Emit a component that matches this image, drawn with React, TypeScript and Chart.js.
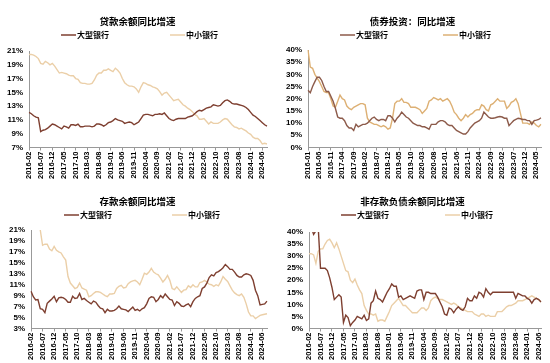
import React, { useEffect, useRef } from "react";
import { Chart, registerables } from "chart.js";

Chart.register(...registerables);

// ---------- data ----------
const loanLarge = [
  12.1, 11.9, 11.6, 11.4, 11.3, 9.3, 9.5, 9.6, 9.8, 10.1, 10.4,
  10.3, 10.1, 9.9, 9.7, 10.1, 10.0, 9.8, 10.3, 10.3, 10.2, 10.4, 10.0,
  10.0, 10.1, 10.1, 10.1, 10.0, 10.1, 10.4, 10.4, 10.3, 10.1, 10.3, 10.6,
  10.7, 10.9, 11.2, 11.0, 10.9, 10.8, 10.5, 10.6, 10.7, 10.6, 10.3, 10.5,
  10.7, 11.2, 11.7, 11.8, 11.8, 11.7, 11.6, 11.8, 11.8, 11.9, 11.8, 12.0,
  11.6, 11.2, 11.0, 10.9, 11.1, 11.2, 11.2, 11.2, 11.2, 11.4, 11.5, 11.6,
  11.9, 12.2, 12.4, 12.3, 12.5, 12.7, 12.8, 12.9, 13.2, 13.1, 13.0, 13.1,
  13.5, 13.8, 13.9, 13.7, 13.4, 13.3, 13.3, 13.2, 13.1, 13.0, 12.8, 12.5,
  12.1, 11.7, 11.5, 11.2, 10.9, 10.6, 10.3, 10.1,
];
const loanSmall = [
  20.5, 20.5, 20.4, 20.2, 19.9, 19.2, 19.1, 19.5, 19.3, 19.0, 19.2,
  18.8, 18.3, 17.8, 17.9, 17.8, 17.7, 17.5, 17.4, 17.4, 17.0, 16.9, 16.4,
  16.3, 16.3, 16.2, 16.2, 16.3, 16.8, 17.5, 17.8, 17.8, 18.2, 18.2, 18.4,
  18.2, 18.0, 18.5, 18.2, 17.8, 17.0, 16.4, 16.1, 15.9, 15.9, 15.8, 15.5,
  15.0, 15.8, 16.4, 16.3, 16.1, 16.0, 15.8, 15.7, 15.5, 15.1, 14.6, 14.9,
  15.0, 14.6, 14.2, 13.8, 13.9, 14.0, 13.6, 13.2, 13.0, 12.7, 12.5, 12.2,
  11.8, 11.6, 11.1, 11.1, 11.2, 10.8, 10.4, 10.7, 10.5, 10.5, 10.5, 10.7,
  11.0, 11.2, 11.1, 10.7, 10.3, 10.0, 9.9, 9.7, 9.8, 9.6, 9.4, 9.1,
  8.9, 8.5, 8.3, 8.3, 8.0, 7.5, 7.6, 7.5,
];

const bondLarge = [
  23.5, 22.5, 25, 27, 28.8, 28.8, 27.5, 25, 23, 23, 21, 19,
  16, 12.5, 12, 12, 11, 9, 8, 8, 7, 9.5, 8.5, 9,
  9.5, 9.5, 10, 11, 12, 12.5, 11.5, 11, 11.5, 11.5, 11, 13,
  13, 12, 10.5, 12, 13, 14.5, 13.5, 12.5, 12, 11, 10, 9.5,
  9, 9, 8.5, 8.5, 8, 7.5, 9.5, 9.5, 9.5, 10.5, 11, 11,
  10.5, 9.5, 9, 9, 8, 7, 6.5, 6, 5.5, 5.5, 6.5, 8,
  9, 10, 10.5, 11, 12, 14.5, 13.5, 12.5, 12, 12, 12.2, 12.5,
  12.7, 12.5, 12, 12, 9, 10, 11, 11.5, 12, 11.8, 11.5, 11.5,
  11, 11, 9.5, 11, 11.2, 11.5, 12.2,
];
const bondSmall = [
  40, 33, 32.5, 30, 28.5, 27, 25, 23, 22.5, 22.5, 20, 17,
  16.5, 19, 21.5, 20, 19.5, 17, 16, 15.5, 16.5, 17, 17.5, 18,
  18, 17.5, 12, 10.5, 10, 9.5, 9.5, 9, 8.5, 9, 8.5, 7.5,
  8, 12, 18, 19, 19, 20, 18.5, 18.5, 18, 16.5, 16.5, 16.5,
  16, 15.5, 14, 15, 16, 19, 19.5, 20.5, 20, 19.5, 20, 19,
  19.5, 20, 19, 17, 14.5, 13.5, 12, 11, 12, 13.5, 12.5, 13.5,
  14, 15, 15.5, 15.5, 17.5, 17, 15.5, 15, 17.5, 18, 19, 20,
  19, 19, 19, 16, 17, 18.5, 19, 20, 18, 14, 10, 10,
  10, 9.5, 10.5, 10, 9, 8.5, 9.5,
];

const depLarge = [
  9.8, 8.8, 8.2, 8.3, 6.6, 6.5, 5.9, 7.6, 8.0, 8.4, 8.9,
  7.9, 8.6, 8.7, 8.6, 8.3, 7.8, 7.8, 8.9, 8.5, 8.6, 9.4, 8.3,
  8.5, 8.1, 7.8, 7.5, 8.0, 7.8, 7.2, 6.7, 6.6, 5.9, 6.5, 6.2,
  6.2, 6.3, 6.6, 7.1, 6.6, 6.5, 6.4, 6.1, 6.5, 6.9, 6.3, 6.5,
  6.2, 6.6, 6.8, 7.5, 8.5, 8.8, 8.7, 7.9, 8.3, 9.0, 8.6, 9.3,
  8.8, 8.3, 8.2, 7.2, 7.9, 7.6, 7.1, 7.0, 7.3, 7.5, 7.0, 7.9,
  8.5, 8.8, 9.0, 10.3, 10.6, 11.3, 12.3, 12.8, 12.6, 13.2, 13.4, 13.7,
  14.1, 14.7, 14.3, 13.8, 13.8, 13.3, 12.7, 12.4, 12.4, 12.8, 13.0, 12.9,
  12.7, 11.8, 10.0, 9.0, 7.3, 7.4, 7.5, 8.0,
];
const depSmall = [
  24.5, 23.5, 22.5, 21.8, 21.0, 18.2, 18.4, 18.4, 17.5, 17.2, 18.0,
  17.3, 17.0, 16.8, 16.1, 15.5, 12.5, 11.3, 10.8, 10.3, 10.5, 11.3, 10.4,
  10.2, 10.0, 8.8, 9.0, 9.4, 9.7, 9.7, 9.6, 9.3, 9.0, 8.8, 9.3,
  9.3, 9.4, 10.3, 10.7, 10.9, 10.4, 10.5, 11.2, 11.5, 11.7, 11.8, 11.5,
  11.0, 12.0, 13.1, 12.9, 13.3, 14.0, 13.3, 13.0, 12.8, 12.2, 11.5, 12.0,
  12.7, 11.8, 10.3, 10.1, 10.6, 10.1, 9.6, 10.0, 10.1, 10.8, 10.5, 11.0,
  10.6, 10.6, 11.4, 11.5, 11.8, 11.5, 11.1, 11.0, 10.7, 11.0, 10.8, 11.5,
  12.5, 12.0, 11.6, 10.8, 10.0, 9.5, 9.2, 9.0, 9.3, 8.7, 7.5, 6.0,
  5.3, 5.3, 4.8, 5.1, 5.4, 5.5, 5.6, 5.7,
];

const nonDepLarge = [
  45, 42, 39, 40.5, 42, 25, 25, 25, 24, 21, 17,
  12, 13, 14, 13, 2.5, 5.5, 4.5, 1.2, 2.5, 3.5, 5, 4.5,
  4, 5.5, 3.3, 4, 10.5, 11.5, 15.5, 12.5, 12, 11, 13, 15,
  16.5, 18.5, 17.5, 17.5, 13, 13.5, 12, 12.5, 13, 13.5, 13, 12.5,
  15.5, 16, 16, 12, 15, 15, 14.5, 14.5, 14.5, 13, 11, 9,
  6, 5.5, 8.5, 8, 6.5, 8, 9, 8, 7.5, 9, 12.5, 11.5,
  11.5, 13.5, 12.5, 15, 14.5, 13, 16.5, 15, 14, 15, 15, 15,
  15, 15, 15, 15, 15, 15, 15, 12.5, 14.5, 14, 13.5, 13.5,
  12.5, 12, 10.5, 12, 12.5, 12, 11,
];
const nonDepSmall = [
  31, 31, 30.5, 27, 32, 33, 33, 35, 36.5, 37, 35.5,
  33.5, 35.5, 33, 30, 27, 24, 23.5, 20, 19, 20.5, 18, 16,
  14.5, 9.5, 7.5, 6, 6, 5.5, 6, 3, 3.5, 3.5, 3, 5,
  7, 9.5, 10.5, 11.5, 12.5, 11, 9.5, 9.5, 8.5, 7.5, 6.5, 6.5,
  6.5, 7.5, 8.5, 8.5, 7.5, 8.5, 11.5, 12.5, 13, 12.5, 12, 12,
  11.5, 11, 10.5, 10, 10.5, 10, 9, 8.5, 8, 7.5, 7, 7,
  7, 6, 5.5, 5, 6, 6, 5, 5.5, 5, 5, 5, 7,
  7, 7, 8, 9, 9.5, 9.5, 10, 10.5, 11.5, 11.5, 11.5, 12,
  12.5, 13, 13.5, 13, 12.5, 12, 11,
];

function monthLabels(startYear: number, startMonth: number, count: number): string[] {
  const out: string[] = [];
  let y = startYear;
  let m = startMonth;
  for (let i = 0; i < count; i++) {
    out.push(`${y}-${String(m).padStart(2, "0")}`);
    m++;
    if (m > 12) {
      m = 1;
      y++;
    }
  }
  return out;
}

const monthsFeb2016 = monthLabels(2016, 2, 103);
const monthsJan2016 = monthLabels(2016, 1, 103);
const monthsFeb2016Short = monthLabels(2016, 2, 102);

const SERIES_LARGE = "大型银行";
const SERIES_SMALL = "中小银行";

type PanelCfg = {
  title: string;
  labels: string[];
  large: number[];
  small: number[];
  min: number;
  max: number;
  step: number;
  largeColor: string;
  smallColor: string;
  pad: { left: number; top: number; right: number; bottom: number };
  legendX: [number, number];
};

const TICK_FONT = "'Liberation Sans', Arial, sans-serif";
const CJK_FONT = "'Noto Sans CJK SC', 'Liberation Sans', sans-serif";

const headerPlugin = {
  id: "panelHeader",
  afterDraw(chart: any, _args: any, opts: any) {
    const ctx = chart.ctx;
    ctx.save();
    ctx.fillStyle = "#000";
    ctx.textBaseline = "middle";
    ctx.font = `bold 9.5px ${CJK_FONT}`;
    ctx.textAlign = "center";
    ctx.fillText(opts.title, chart.width / 2, opts.titleY);
    ctx.font = `bold 8px ${CJK_FONT}`;
    ctx.textAlign = "left";
    const items = opts.items as { x: number; text: string; color: string }[];
    items.forEach((it) => {
      ctx.strokeStyle = it.color;
      ctx.lineWidth = 1.5;
      ctx.beginPath();
      ctx.moveTo(it.x, opts.legendY);
      ctx.lineTo(it.x + 15, opts.legendY);
      ctx.stroke();
      ctx.fillText(it.text, it.x + 16, opts.legendY);
    });
    ctx.restore();
  },
};

function Panel({ cfg, left, top, width, height }: { cfg: PanelCfg; left: number; top: number; width: number; height: number }) {
  const ref = useRef<HTMLCanvasElement | null>(null);
  useEffect(() => {
    if (!ref.current) return;
    const chart = new Chart(ref.current, {
      type: "line",
      data: {
        labels: cfg.labels,
        datasets: [
          {
            label: SERIES_LARGE,
            data: cfg.large,
            borderColor: cfg.largeColor,
            backgroundColor: cfg.largeColor,
            borderWidth: 1.4,
            pointRadius: 0,
            tension: 0,
          },
          {
            label: SERIES_SMALL,
            data: cfg.small,
            borderColor: cfg.smallColor,
            backgroundColor: cfg.smallColor,
            borderWidth: 1.4,
            pointRadius: 0,
            tension: 0,
          },
        ],
      },
      options: {
        animation: false,
        responsive: false,
        maintainAspectRatio: false,
        layout: { padding: cfg.pad },
        plugins: {
          legend: { display: false },
          title: { display: false },
          tooltip: { enabled: false },
          panelHeader: {
            title: cfg.title,
            titleY: 21,
            legendY: 35,
            items: [
              { x: cfg.legendX[0], text: SERIES_LARGE, color: cfg.largeColor },
              { x: cfg.legendX[1], text: SERIES_SMALL, color: cfg.smallColor },
            ],
          },
        } as any,
        scales: {
          x: {
            type: "category",
            offset: false,
            grid: {
              display: true,
              drawOnChartArea: false,
              drawTicks: true,
              tickLength: 3,
              color: "#999",
            },
            border: { display: true, color: "#999", width: 1 },
            ticks: {
              autoSkip: false,
              maxRotation: 90,
              minRotation: 90,
              padding: 1,
              color: "#000",
              font: { family: TICK_FONT, size: 7.5, weight: "bold" },
              callback: (_v: any, i: number) => (i % 5 === 0 ? cfg.labels[i] : null),
            },
          },
          y: {
            min: cfg.min,
            max: cfg.max,
            grid: { display: false, drawTicks: false },
            border: { display: true, color: "#999", width: 1 },
            ticks: {
              stepSize: cfg.step,
              autoSkip: false,
              padding: 6,
              color: "#000",
              font: { family: TICK_FONT, size: 8, weight: "bold" },
              callback: (v: any) => `${v}%`,
            },
          },
        },
      },
      plugins: [headerPlugin],
    });
    return () => chart.destroy();
  }, [cfg]);
  return (
    <div style={{ position: "absolute", left, top, width, height }}>
      <canvas ref={ref} width={width} height={height} style={{ width, height, display: "block" }} />
    </div>
  );
}

const panels: { cfg: PanelCfg; left: number; top: number }[] = [
  {
    left: 0,
    top: 0,
    cfg: {
      title: "贷款余额同比增速",
      labels: monthsFeb2016,
      large: loanLarge,
      small: loanSmall,
      min: 7,
      max: 21,
      step: 2,
      largeColor: "#7E3F30",
      smallColor: "#EBCFA8",
      pad: { left: 1, top: 51, right: 8, bottom: 0 },
      legendX: [61, 170],
    },
  },
  {
    left: 275,
    top: 0,
    cfg: {
      title: "债券投资：同比增速",
      labels: monthsJan2016,
      large: bondLarge,
      small: bondSmall,
      min: 0,
      max: 40,
      step: 5,
      largeColor: "#8C5A4A",
      smallColor: "#DDB074",
      pad: { left: 5, top: 50, right: 9, bottom: 0 },
      legendX: [65, 168],
    },
  },
  {
    left: 0,
    top: 180,
    cfg: {
      title: "存款余额同比增速",
      labels: monthsFeb2016,
      large: depLarge,
      small: depSmall,
      min: 3,
      max: 21,
      step: 2,
      largeColor: "#7E3F30",
      smallColor: "#EBCFA8",
      pad: { left: 3, top: 50, right: 8, bottom: 2 },
      legendX: [64, 172],
    },
  },
  {
    left: 275,
    top: 180,
    cfg: {
      title: "非存款负债余额同比增速",
      labels: monthsFeb2016Short,
      large: nonDepLarge,
      small: nonDepSmall,
      min: 0,
      max: 40,
      step: 5,
      largeColor: "#7E3F30",
      smallColor: "#EBCFA8",
      pad: { left: 6, top: 52, right: 9, bottom: 2 },
      legendX: [66, 170],
    },
  },
];

export default function App() {
  return (
    <div style={{ position: "fixed", left: 0, top: 0, width: 550, height: 363, background: "#fff", overflow: "hidden" }}>
      {panels.map((p, i) => (
        <Panel key={i} cfg={p.cfg} left={p.left} top={p.top} width={275} height={i < 2 ? 180 : 183} />
      ))}
    </div>
  );
}
